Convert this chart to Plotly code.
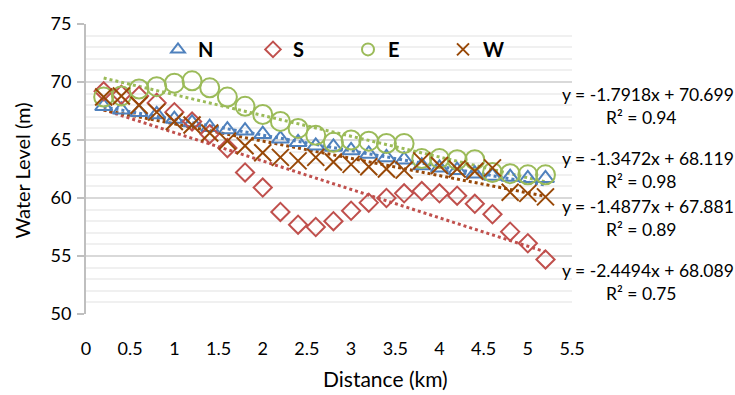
import plotly.graph_objects as go

distance = [0.2, 0.4, 0.6, 0.8, 1.0, 1.2, 1.4, 1.6, 1.8, 2.0, 2.2, 2.4, 2.6,
            2.8, 3.0, 3.2, 3.4, 3.6, 3.8, 4.0, 4.2, 4.4, 4.6, 4.8, 5.0, 5.2]

level_N = [67.9, 67.6, 67.4, 67.2, 66.8, 66.5, 66.1, 65.9, 65.8, 65.5, 65.1, 64.8, 64.5,
           64.4, 64.1, 63.8, 63.5, 63.3, 62.8, 62.6, 62.4, 62.1, 61.9, 61.8, 61.7, 61.7]
level_S = [69.2, 68.9, 68.8, 68.2, 67.4, 66.6, 65.5, 64.3, 62.2, 60.9, 58.8, 57.7, 57.5,
           58.0, 58.9, 59.6, 60.0, 60.4, 60.6, 60.4, 60.2, 59.5, 58.6, 57.1, 56.1, 54.7]
level_E = [68.7, 68.8, 69.4, 69.6, 69.9, 70.1, 69.5, 68.7, 67.9, 67.2, 66.6, 66.0, 65.4,
           64.8, 65.0, 64.9, 64.7, 64.7, 63.4, 63.4, 63.3, 63.3, 62.2, 62.1, 62.0, 62.0]
level_W = [68.7, 68.8, 68.0, 67.4, 66.6, 66.3, 65.6, 64.9, 64.5, 63.9, 63.5, 63.2, 63.5,
           63.1, 62.9, 62.7, 62.5, 62.4, 63.2, 62.8, 62.5, 62.3, 62.6, 60.5, 60.4, 60.1]

series_names = ["N", "S", "E", "W"]
slopes = [-1.3472, -2.4494, -1.7918, -1.4877]
intercepts = [68.119, 68.089, 70.699, 67.881]
r_squared = ["0.98", "0.75", "0.94", "0.89"]

colors = {"N": "#4F81BD", "S": "#C0504D", "E": "#9BBB59", "W": "#984807"}
symbols = {"N": "triangle-up-open", "S": "diamond-open", "E": "circle-open", "W": "x-thin-open"}
sizes = {"N": 15, "S": 14, "E": 19, "W": 17}
levels = {"N": level_N, "S": level_S, "E": level_E, "W": level_W}

FONT = "Lato"
fig = go.Figure()

# trendlines
for name, m, b in zip(series_names, slopes, intercepts):
    xs = [distance[0], distance[-1]]
    ys = [m * x + b for x in xs]
    fig.add_trace(go.Scatter(x=xs, y=ys, mode="lines", showlegend=False, hoverinfo="skip",
                             line=dict(color=colors[name], width=3, dash="dot")))

for name in series_names:
    fig.add_trace(go.Scatter(
        x=distance, y=levels[name], mode="markers", name=name,
        marker=dict(symbol=symbols[name], size=sizes[name], color=colors[name],
                    line=dict(color=colors[name], width=2))))

# pixel -> paper helpers
PL, PR, PT, PB = 86, 572, 19, 314
def px(x):
    return (x - PL) / (PR - PL)
def py(y):
    return (PB - y) / (PB - PT)

# equation labels (order top to bottom: E, N, W, S)
label_order = ["E", "N", "W", "S"]
eq_y = [91, 156, 205, 270]
for name, yy in zip(label_order, eq_y):
    i = series_names.index(name)
    m, b = slopes[i], intercepts[i]
    sign = "+" if b >= 0 else "-"
    txt = f"y = {m:.4f}x {sign} {abs(b):.3f}"
    fig.add_annotation(x=px(648), y=py(yy), xref="paper", yref="paper",
                       text=txt, showarrow=False, xanchor="center", yanchor="middle",
                       font=dict(family=FONT, size=17.5, color="#000000"))
    fig.add_annotation(x=px(641), y=py(yy + 23), xref="paper", yref="paper",
                       text=f"R² = {r_squared[i]}", showarrow=False, xanchor="center",
                       yanchor="middle", font=dict(family=FONT, size=17.5, color="#000000"))

# axis titles
fig.add_annotation(x=px(385), y=py(380), xref="paper", yref="paper", text="Distance (km)",
                   showarrow=False, xanchor="center", yanchor="middle",
                   font=dict(family=FONT, size=21, color="#000000"))
fig.add_annotation(x=px(22), y=py(168), xref="paper", yref="paper", text="Water Level (m)",
                   showarrow=False, xanchor="center", yanchor="middle", textangle=-90,
                   font=dict(family=FONT, size=20, color="#000000"))

fig.update_layout(
    width=735, height=395,
    margin=dict(l=PL, r=735 - PR, t=PT, b=395 - PB),
    paper_bgcolor="white", plot_bgcolor="white",
    font=dict(family=FONT, size=18, color="#000000"),
    showlegend=True,
    legend=dict(orientation="h", x=px(158), y=py(25), xanchor="left", yanchor="top",
                bgcolor="rgba(0,0,0,0)", entrywidth=50, entrywidthmode="pixels",
                font=dict(family=FONT, size=20, color="#000000", weight="bold"),
                itemsizing="constant", itemwidth=30, tracegroupgap=0),
)

fig.update_xaxes(range=[0, 5.5], dtick=0.5, tick0=0, showgrid=False, zeroline=False,
                 showline=False, ticks="", ticklabelstandoff=22,
                 tickfont=dict(family=FONT, size=18))
fig.update_yaxes(range=[50, 75], dtick=5, tick0=50, showgrid=True, gridcolor="#D9D9D9",
                 gridwidth=1.5, zeroline=False, showline=True, linecolor="#BFBFBF",
                 linewidth=2, ticks="outside", ticklen=7, tickcolor="#BFBFBF",
                 tickwidth=2, tickfont=dict(family=FONT, size=18), ticklabelstandoff=2,
                 minor=dict(dtick=1, showgrid=True, gridcolor="#F0F0F0", gridwidth=1.5))

fig.write_html("out.html")
